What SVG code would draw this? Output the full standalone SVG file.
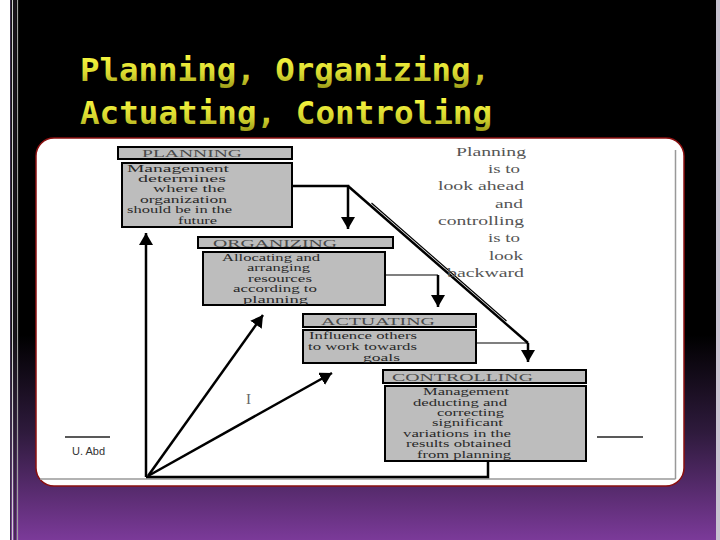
<svg xmlns="http://www.w3.org/2000/svg" width="720" height="540" viewBox="0 0 720 540">
<defs>
<linearGradient id="bg" x1="0" y1="0" x2="0" y2="1">
<stop offset="0" stop-color="#000"/>
<stop offset="0.62" stop-color="#000"/>
<stop offset="0.8" stop-color="#2e1a3c"/>
<stop offset="1" stop-color="#7b3a99"/>
</linearGradient>
<linearGradient id="ttl" x1="0" y1="0" x2="0" y2="1">
<stop offset="0" stop-color="#ffff44"/>
<stop offset="0.6" stop-color="#d8d830"/>
<stop offset="1" stop-color="#9a9a18"/>
</linearGradient>
<marker id="ah" viewBox="0 0 12 14" refX="12" refY="7" markerWidth="12" markerHeight="14" markerUnits="userSpaceOnUse" orient="auto">
<path d="M0,0 L12,7 L0,14 z" fill="#000"/>
</marker>
<style>
.hdr{fill:#bdbdbd;stroke:#000;stroke-width:2}
.body{fill:#bdbdbd;stroke:#000;stroke-width:2}
.ht{font-family:"Liberation Serif",serif;font-size:11px;fill:#4a4a4a}
.bt{font-family:"Liberation Serif",serif;font-size:10px;fill:#2a2a2a}
.rt{font-family:"Liberation Serif",serif;font-size:12px;fill:#555}
.ln{stroke:#000;stroke-width:2.5;fill:none}
.thin{stroke:#000;stroke-width:1.2;fill:none}
.title{font-family:"DejaVu Sans Mono",monospace;font-weight:bold;font-size:32px;fill:url(#ttl)}
</style>
</defs>
<rect x="0" y="0" width="720" height="540" fill="url(#bg)"/>
<rect x="0" y="0" width="10" height="540" fill="#fff"/>
<line x1="10.5" y1="0" x2="10.5" y2="540" stroke="#3a2a4a" stroke-width="1"/>
<line x1="12.5" y1="0" x2="12.5" y2="540" stroke="#d0d0d0" stroke-width="1.2"/>
<line x1="15" y1="0" x2="15" y2="540" stroke="#2a2030" stroke-width="1.2"/>
<line x1="17.5" y1="0" x2="17.5" y2="540" stroke="#a0a0a0" stroke-width="1.2"/>
<rect x="716" y="0" width="4" height="540" fill="#c8c2d0"/>

<text class="title" x="80" y="81" textLength="410" lengthAdjust="spacingAndGlyphs">Planning, Organizing,</text>
<text class="title" x="80" y="124" textLength="412" lengthAdjust="spacingAndGlyphs">Actuating, Controling</text>

<rect x="36" y="138" width="648" height="348" rx="18" ry="18" fill="#fff" stroke="#8b1010" stroke-width="1.5"/>
<line x1="675.5" y1="150" x2="675.5" y2="479" stroke="#999" stroke-width="1.5"/>
<line x1="40" y1="479" x2="675.5" y2="479" stroke="#999" stroke-width="1.5"/>
<line x1="65" y1="437" x2="110" y2="437" stroke="#222" stroke-width="1.5"/>
<line x1="597" y1="437" x2="643" y2="437" stroke="#222" stroke-width="1.5"/>
<text x="72" y="455" font-family="Liberation Sans, sans-serif" font-size="11" fill="#333">U. Abd</text>

<g id="connectors">
<path class="ln" d="M292,186 H348 V229" marker-end="url(#ah)"/>
<line class="ln" x1="348" y1="186" x2="528" y2="343"/>
<line class="thin" x1="371.5" y1="203" x2="506.5" y2="321"/>
<path class="thin" d="M385,275 H438"/>
<line class="ln" x1="438" y1="275" x2="438" y2="307" marker-end="url(#ah)"/>
<path class="thin" d="M476,343 H528"/>
<line class="ln" x1="528" y1="343" x2="528" y2="362" marker-end="url(#ah)"/>
<path class="ln" d="M488,461 V477 H146"/>
<line class="ln" x1="146" y1="477" x2="146" y2="233" marker-end="url(#ah)"/>
<line class="ln" x1="148" y1="476" x2="263" y2="315" marker-end="url(#ah)"/>
<line class="ln" x1="148" y1="476" x2="332" y2="373" marker-end="url(#ah)"/>
</g>

<g id="planning">
<rect class="hdr" x="118" y="147" width="174" height="12"/>
<text class="ht" x="142" y="157" textLength="100" lengthAdjust="spacingAndGlyphs">PLANNING</text>
<rect class="body" x="122" y="163" width="170" height="64"/>
<text class="bt" x="127" y="172" textLength="102" lengthAdjust="spacingAndGlyphs">Management</text>
<text class="bt" x="138" y="182" textLength="88" lengthAdjust="spacingAndGlyphs">determines</text>
<text class="bt" x="153" y="192" textLength="72" lengthAdjust="spacingAndGlyphs">where the</text>
<text class="bt" x="140" y="203" textLength="87" lengthAdjust="spacingAndGlyphs">organization</text>
<text class="bt" x="127" y="213" textLength="105" lengthAdjust="spacingAndGlyphs">should be in the</text>
<text class="bt" x="178" y="224" textLength="39" lengthAdjust="spacingAndGlyphs">future</text>
</g>

<g id="organizing">
<rect class="hdr" x="198" y="237" width="195" height="11"/>
<text class="ht" x="213" y="246.5" textLength="124" lengthAdjust="spacingAndGlyphs">ORGANIZING</text>
<rect class="body" x="203" y="252" width="182" height="53"/>
<text class="bt" x="222" y="261" textLength="98" lengthAdjust="spacingAndGlyphs">Allocating and</text>
<text class="bt" x="247" y="271" textLength="63" lengthAdjust="spacingAndGlyphs">arranging</text>
<text class="bt" x="248" y="282" textLength="64" lengthAdjust="spacingAndGlyphs">resources</text>
<text class="bt" x="233" y="292" textLength="84" lengthAdjust="spacingAndGlyphs">according to</text>
<text class="bt" x="243" y="302.5" textLength="65" lengthAdjust="spacingAndGlyphs">planning</text>
</g>

<g id="actuating">
<rect class="hdr" x="303" y="314" width="173" height="13"/>
<text class="ht" x="321" y="325" textLength="114" lengthAdjust="spacingAndGlyphs">ACTUATING</text>
<rect class="body" x="303" y="330" width="173" height="33"/>
<text class="bt" x="309" y="339" textLength="108" lengthAdjust="spacingAndGlyphs">Influence others</text>
<text class="bt" x="308" y="350" textLength="109" lengthAdjust="spacingAndGlyphs">to work towards</text>
<text class="bt" x="363" y="360.5" textLength="37" lengthAdjust="spacingAndGlyphs">goals</text>
</g>

<g id="controlling">
<rect class="hdr" x="383" y="370" width="203" height="13"/>
<text class="ht" x="392" y="381" textLength="141" lengthAdjust="spacingAndGlyphs">CONTROLLING</text>
<rect class="body" x="385" y="386" width="201" height="75"/>
<text class="bt" x="423" y="395" textLength="86" lengthAdjust="spacingAndGlyphs">Management</text>
<text class="bt" x="413" y="405.5" textLength="94" lengthAdjust="spacingAndGlyphs">deducting and</text>
<text class="bt" x="437" y="416" textLength="67" lengthAdjust="spacingAndGlyphs">correcting</text>
<text class="bt" x="432" y="426" textLength="71" lengthAdjust="spacingAndGlyphs">significant</text>
<text class="bt" x="403" y="436.5" textLength="108" lengthAdjust="spacingAndGlyphs">variations in the</text>
<text class="bt" x="406" y="447" textLength="105" lengthAdjust="spacingAndGlyphs">results obtained</text>
<text class="bt" x="417" y="457.5" textLength="94" lengthAdjust="spacingAndGlyphs">from planning</text>
</g>

<g id="note">
<text class="rt" x="456" y="156" textLength="70" lengthAdjust="spacingAndGlyphs">Planning</text>
<text class="rt" x="488" y="173" textLength="32" lengthAdjust="spacingAndGlyphs">is to</text>
<text class="rt" x="438" y="190" textLength="86" lengthAdjust="spacingAndGlyphs">look ahead</text>
<text class="rt" x="495" y="208" textLength="28" lengthAdjust="spacingAndGlyphs">and</text>
<text class="rt" x="438" y="225" textLength="86" lengthAdjust="spacingAndGlyphs">controlling</text>
<text class="rt" x="488" y="242" textLength="32" lengthAdjust="spacingAndGlyphs">is to</text>
<text class="rt" x="489" y="260" textLength="34" lengthAdjust="spacingAndGlyphs">look</text>
<text class="rt" x="447" y="277" textLength="77" lengthAdjust="spacingAndGlyphs">backward</text>
</g>

<text x="246" y="404" font-family="Liberation Serif, serif" font-size="15" fill="#666">I</text>
</svg>
